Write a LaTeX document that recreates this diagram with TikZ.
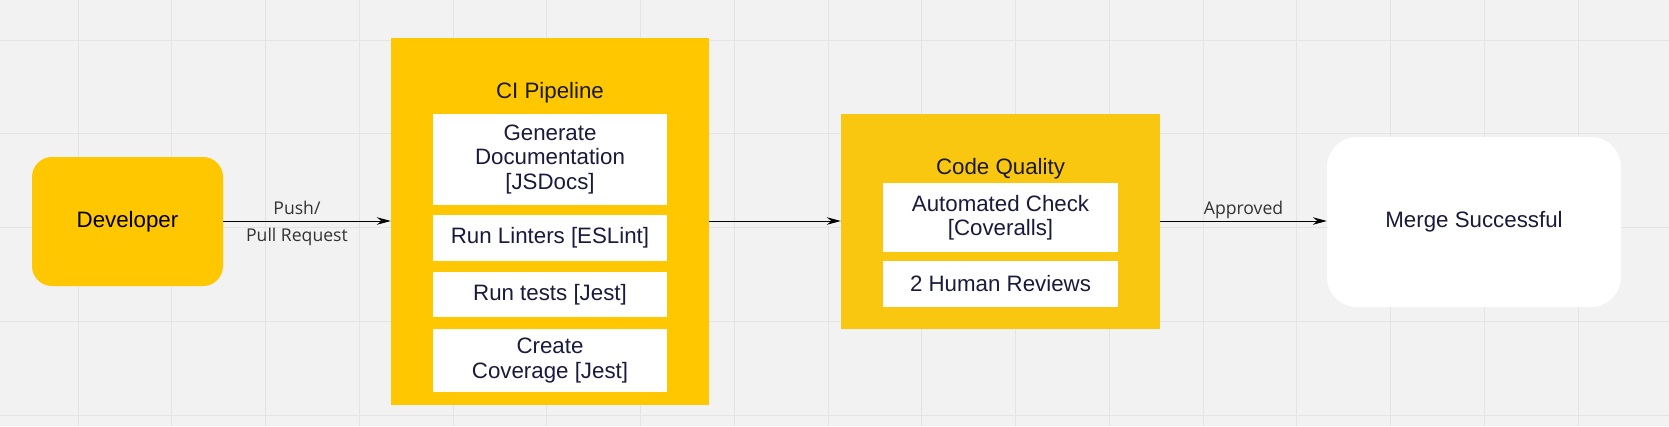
\documentclass[tikz,border=0pt]{standalone}
\usepackage{fontspec}
\setmainfont{Liberation Sans}
\newfontfamily\labelfont{Open Sans}
\usetikzlibrary{arrows.meta}

\definecolor{ciyellow}{HTML}{FFC700}
\definecolor{cqyellow}{HTML}{FAC710}
\definecolor{bggray}{HTML}{F2F2F2}
\definecolor{gridgray}{HTML}{E4E4E4}
\definecolor{navytext}{HTML}{1A1A3C}
\definecolor{labelgray}{HTML}{333333}

\tikzstyle{ybox}=[fill=ciyellow, inner sep=0pt, font=\fontsize{22.3}{24.5}\selectfont]
\tikzstyle{wbox}=[fill=white, inner sep=0pt, align=center, text=navytext, minimum width=234pt, font=\fontsize{22.3}{24.5}\selectfont]
\tikzstyle{btitle}=[inner sep=0pt, text=black!90, font=\fontsize{22.3}{24.5}\selectfont]
\tikzstyle{elabel}=[inner sep=2pt, text=labelgray, align=center, font=\labelfont\fontsize{17.6}{27}\selectfont]
\tikzstyle{flow}=[line width=1pt, -{Stealth[length=14pt,width=7.5pt]}]

\begin{document}
\begin{tikzpicture}[x=1pt, y=-1pt]

\fill[bggray] (0,0) rectangle (1669,426);
\useasboundingbox (0,0) rectangle (1669,426);
\foreach \g in {0,...,16}
  \draw[gridgray, line width=1pt] ({78+93.75*\g},0) -- ({78+93.75*\g},426);
\foreach \g in {0,...,4}
  \draw[gridgray, line width=1pt] (0,{40+93.75*\g}) -- (1669,{40+93.75*\g});

% developer
\node[ybox, rounded corners=20pt, minimum width=191pt, minimum height=129pt] (dev) at (127.5,221.5) {Developer};

% ci pipeline
\node[ybox, minimum width=318pt, minimum height=367pt] (ci) at (550,221.5) {};
\node[btitle] (cititle) at (550,93) {CI Pipeline};
\node[wbox, minimum height=91pt] (gen) at (550,159.5) {Generate\\Documentation\\{[JSDocs]}};
\node[wbox, minimum height=46pt] (lint) at (550,238) {Run Linters [ESLint]};
\node[wbox, minimum height=45pt] (test) at (550,294.5) {Run tests [Jest]};
\node[wbox, minimum height=63pt] (cov) at (550,360.5) {Create\\Coverage [Jest]};

% code quality
\node[ybox, fill=cqyellow, minimum width=319pt, minimum height=215pt] (cq) at (1000.5,221.5) {};
\node[btitle] (cqtitle) at (1000.5,169) {Code Quality};
\node[wbox, minimum width=235pt, minimum height=69pt] (auto) at (1000.5,217.5) {Automated Check\\{[Coveralls]}};
\node[wbox, minimum width=235pt, minimum height=46pt] (human) at (1000.5,284) {2 Human Reviews};

% merge
\node[fill=white, rounded corners=30pt, inner sep=0pt, minimum width=294pt, minimum height=170pt, text=navytext, font=\fontsize{22.3}{24.5}\selectfont] (merge) at (1474,222) {Merge Successful};

\draw[flow] (dev.east |- 0,221) -- (ci.west |- 0,221) node[elabel, pos=0.44, yshift=-2.5pt] {Push/\\Pull Request};
\draw[flow] (ci.east |- 0,221) -- (cq.west |- 0,221);
\draw[flow] (cq.east |- 0,221) -- (merge.west |- 0,221) node[elabel, midway, above=0pt] {Approved};

\end{tikzpicture}
\end{document}
